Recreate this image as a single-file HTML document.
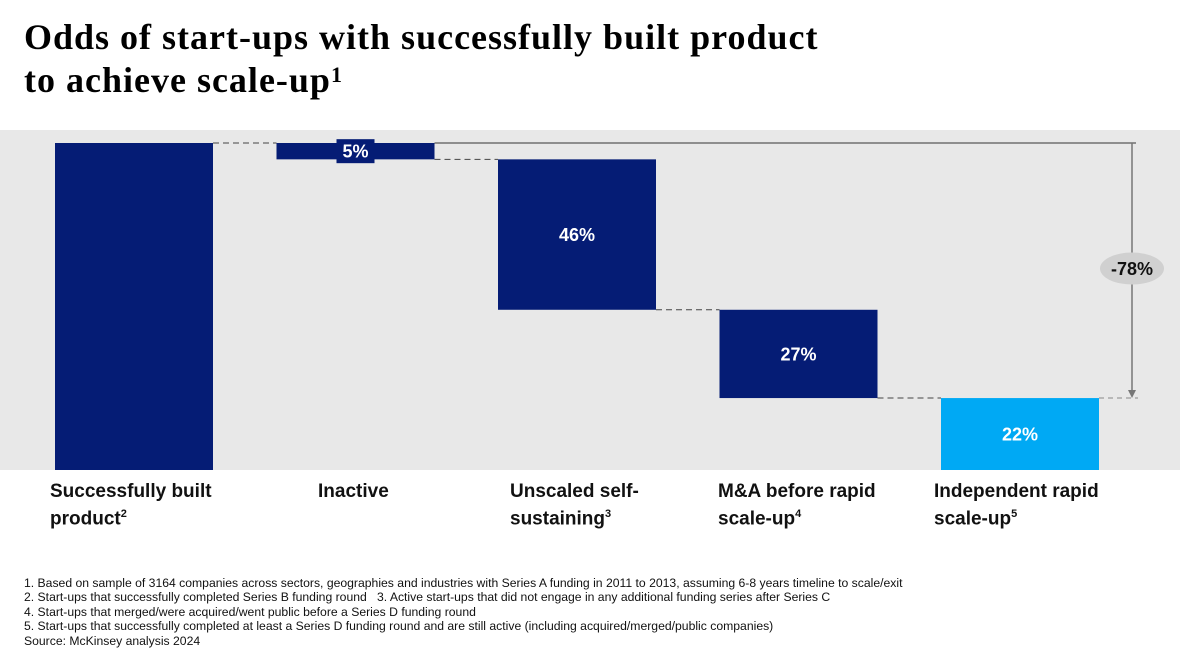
<!DOCTYPE html>
<html><head><meta charset="utf-8"><style>
body{margin:0;width:1180px;height:664px;background:#fff;overflow:hidden;position:relative;font-family:"Liberation Sans",Arial,sans-serif}
.t{position:absolute;left:24px;top:18px;font-family:"Liberation Serif",serif;font-weight:bold;font-size:36px;line-height:38px;color:#000;letter-spacing:1px}
.cat{position:absolute;top:480px;font-weight:bold;font-size:19px;line-height:23px;color:#111}
.fn{position:absolute;left:24px;top:576px;font-size:12.2px;line-height:14.4px;color:#111}
</style></head><body>
<div class="t">Odds of start-ups with successfully built product<br>to achieve scale-up<span style="font-size:22px;vertical-align:10px">1</span></div>
<svg id="c" width="1180" height="664" style="position:absolute;left:0;top:0"></svg>
<div class="cat" style="left:50px">Successfully built<br>product<sup style="font-size:11px">2</sup></div>
<div class="cat" style="left:318px">Inactive</div>
<div class="cat" style="left:510px">Unscaled self-<br>sustaining<sup style="font-size:11px">3</sup></div>
<div class="cat" style="left:718px">M&amp;A before rapid<br>scale-up<sup style="font-size:11px">4</sup></div>
<div class="cat" style="left:934px">Independent rapid<br>scale-up<sup style="font-size:11px">5</sup></div>
<div class="fn">1. Based on sample of 3164 companies across sectors, geographies and industries with Series A funding in 2011 to 2013, assuming 6-8 years timeline to scale/exit<br>2. Start-ups that successfully completed Series B funding round &nbsp;&nbsp;3. Active start-ups that did not engage in any additional funding series after Series C<br>4. Start-ups that merged/were acquired/went public before a Series D funding round<br>5. Start-ups that successfully completed at least a Series D funding round and are still active (including acquired/merged/public companies)<br>Source: McKinsey analysis 2024</div>
<script>
const categories=["Successfully built product","Inactive","Unscaled self-sustaining","M&A before rapid scale-up","Independent rapid scale-up"];
const values=[100,5,46,27,22];
const labels=["","5%","46%","27%","22%"];
const totalChange="-78%";
const svg=document.getElementById('c');const NS='http://www.w3.org/2000/svg';
function mk(t,a){const e=document.createElementNS(NS,t);for(const k in a)e.setAttribute(k,a[k]);svg.appendChild(e);return e;}
const base=470,top0=143,sc=(base-top0)/100;
const y=v=>base-v*sc;
const bx=i=>55+i*221.5,bw=158;
const bg=mk('rect',{x:0,y:130,width:1180,height:340,fill:'#e8e8e8'});


let level=values[0];const tops=[],bots=[];
values.forEach((v,i)=>{let t,b;
 if(i===0){t=y(v);b=base;}
 else if(i===values.length-1){t=y(v);b=base;}
 else{t=y(level);b=y(level-v);level-=v;}
 tops.push(t);bots.push(b);
 const r=mk('rect',{x:bx(i),y:t,width:bw,height:b-t,fill:i===values.length-1?'#00a9f4':'#051c75'});
 
 
 if(labels[i]){
  const cy=(t+b)/2;
  if(b-t<24){const lb=mk('rect',{x:bx(i)+bw/2-19,y:cy-12,width:38,height:24,fill:'#051c75'});
   
   }
  const tx=mk('text',{x:bx(i)+bw/2,y:cy+6.5,'text-anchor':'middle','font-size':18,'font-weight':'bold',fill:'#fff','font-family':'Liberation Sans,sans-serif'});
  tx.textContent=labels[i];
  
  
 }
});
for(let i=0;i<values.length-1;i++){
 const yy=i===0?tops[0]:bots[i];
 const ln=mk('line',{x1:bx(i)+bw,x2:bx(i+1),y1:yy,y2:yy,stroke:'#444','stroke-dasharray':'6,4','stroke-width':1});
 
 
}
const ax=1132,yT=tops[0],yB=tops[values.length-1];
const tl=mk('line',{x1:bx(1)+bw,x2:ax+4,y1:yT,y2:yT,stroke:'#333','stroke-width':1});


const bl=mk('line',{x1:bx(4)+bw,x2:ax+6,y1:yB,y2:yB,stroke:'#888','stroke-dasharray':'5,4','stroke-width':1});


const al=mk('line',{x1:ax,x2:ax,y1:yT,y2:yB-6,stroke:'#777','stroke-width':1.5});


const ah=mk('polygon',{points:`${ax-4},${yB-8} ${ax+4},${yB-8} ${ax},${yB}`,fill:'#777'});


const my=(yT+yB)/2-2;
const el=mk('ellipse',{cx:ax,cy:my,rx:32,ry:16,fill:'#d0d0d0'});


const ct=mk('text',{x:ax,y:my+6.5,'text-anchor':'middle','font-size':18,'font-weight':'bold',fill:'#111','font-family':'Liberation Sans,sans-serif'});
ct.textContent=totalChange;


</script>
</body></html>
